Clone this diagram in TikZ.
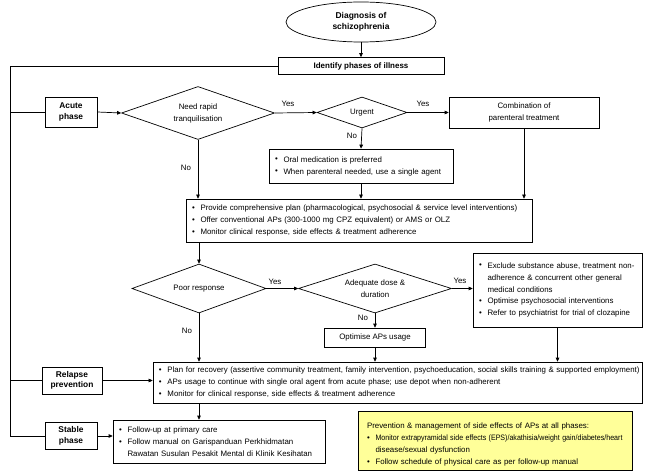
\documentclass[tikz,border=0pt]{standalone}
\usepackage{fontspec}
\setmainfont{Liberation Sans}
\usetikzlibrary{shapes.geometric,arrows.meta}
\newcommand{\bitem}[1]{\mbox{\makebox[8.5bp][l]{\raisebox{0.3bp}{\textbullet}}#1}}
\newcommand{\bcont}[1]{\mbox{\hspace*{8.5bp}#1}}
\begin{document}
\begin{tikzpicture}[x=1bp,y=-1bp,
  every node/.style={font=\fontsize{7.9}{12}\selectfont, inner sep=0},
  ln/.style={line width=0.7bp},
  arr/.style={ln, -{Triangle[length=4bp,width=3.6bp]}},
  bx/.style={draw, ln, rectangle, align=center},
  bbx/.style={draw, ln, rectangle, align=left, inner xsep=6bp, text width=#1},
  lbl/.style={draw, ln, rectangle, align=center, font=\fontsize{8.4}{10.5}\selectfont\bfseries},
  dia/.style={draw, ln, diamond, align=center},
  yn/.style={font=\fontsize{7.9}{9}\selectfont}
]
\useasboundingbox (0,0) rectangle (650,476);

% top
\node[draw, ln, ellipse, minimum width=150bp, minimum height=40bp, align=center,
      font=\fontsize{8.5}{11}\selectfont\bfseries] (diag) at (361,22) {Diagnosis of\\schizophrenia};
\node[draw, ln, rectangle, minimum width=166bp, minimum height=17bp, font=\fontsize{8}{10}\selectfont\bfseries] (ident) at (361,66) {Identify phases of illness};

% phase labels
\node[lbl, minimum width=52bp, minimum height=30bp] (acute) at (71,112) {Acute\\phase};
\node[lbl, minimum width=60bp, minimum height=27bp] (rlbl) at (72,380.5) {Relapse\\prevention};
\node[lbl, minimum width=52bp, minimum height=27bp] (slbl) at (71,436) {Stable\\phase};

% acute phase
\node[dia, minimum width=153bp, minimum height=53bp, aspect=2.9] (rapid) at (198,113) {Need rapid\\tranquilisation};
\node[dia, minimum width=90bp, minimum height=31bp, aspect=2.9] (urgent) at (362,112.5) {Urgent};
\node[bx, minimum width=150bp, minimum height=31bp] (comb) at (524,112.5) {Combination of\\parenteral treatment};
\node[bbx=172bp, minimum height=34bp] (oral) at (361,166)
  {\bitem{Oral medication is preferred}\\\bitem{When parenteral needed, use a single agent}};
\node[bbx=334bp, minimum height=43bp] (main) at (359,220.5)
  {\bitem{Provide comprehensive plan (pharmacological, psychosocial \& service level interventions)}\\
   \bitem{Offer conventional APs (300-1000 mg CPZ equivalent) or AMS or OLZ}\\
   \bitem{Monitor clinical response, side effects \& treatment adherence}};

% response
\node[dia, minimum width=134bp, minimum height=49bp, aspect=2.7] (poor) at (199,288.5) {Poor response};
\node[dia, minimum width=153bp, minimum height=49bp, aspect=3.1] (adeq) at (375,288.5) {Adequate dose \&\\duration};
\node[bx, minimum width=101bp, minimum height=19bp] (opt) at (375,337.5) {Optimise APs usage};
\node[bbx=157bp, minimum height=74bp] (excl) at (557.5,290)
  {\bitem{Exclude substance abuse, treatment non-}\\\bcont{adherence \& concurrent other general}\\\bcont{medical conditions}\\
   \bitem{Optimise psychosocial interventions}\\\bitem{Refer to psychiatrist for trial of clozapine}};

% relapse & stable
\node[bbx=477bp, minimum height=41bp] (relapse) at (397.5,382.5)
  {\bitem{\resizebox{472bp}{\height}{Plan for recovery (assertive community treatment, family intervention, psychoeducation, social skills training \& supported employment)}}\\
   \bitem{APs usage to continue with single oral agent from acute phase; use depot when non-adherent}\\
   \bitem{Monitor for clinical response, side effects \& treatment adherence}};
\node[bbx=200bp, minimum height=43bp] (stable) at (219,441.5)
  {\bitem{Follow-up at primary care}\\\bitem{Follow manual on Garispanduan Perkhidmatan}\\\bcont{Rawatan Susulan Pesakit Mental di Klinik Kesihatan}};
\node[bbx=256bp, minimum height=59bp, fill={rgb,255:red,255;green,255;blue,153}, inner xsep=9bp] (yellow) at (495,441)
  {\mbox{\rule{0pt}{13bp}Prevention \& management of side effects of APs at all phases:}\\
   \bitem{\resizebox{247bp}{\height}{Monitor extrapyramidal side effects (EPS)/akathisia/weight gain/diabetes/heart}}\\\bcont{disease/sexual dysfunction}\\
   \bitem{Follow schedule of physical care as per follow-up manual}};

% spine
\coordinate (spTop) at (10,66);
\draw[ln] (ident.west) -- (spTop) |- (slbl.west);
\draw[ln] (acute.west -| spTop) -- (acute.west);
\draw[ln] (rlbl.west -| spTop) -- (rlbl.west);

% connectors
\draw[arr] (diag.south) -- (ident.north);
\draw[arr] (acute.east) -- (rapid.west);
\draw[arr] (rapid.east) -- (urgent.west);
\draw[arr] (urgent.east) -- (comb.west);
\draw[arr] (urgent.south) -- (oral.north);
\draw[arr] (oral.south) -- (oral.south |- main.north);
\draw[arr] (rapid.south) -- (rapid.south |- main.north);
\draw[arr] (comb.south) -- (comb.south |- main.north);
\draw[arr] (main.south -| poor.north) -- (poor.north);
\draw[arr] (poor.east) -- (adeq.west);
\draw[arr] (adeq.east) -- (adeq.east -| excl.west);
\draw[arr] (adeq.south) -- (opt.north);
\draw[arr] (opt.south) -- (opt.south |- relapse.north);
\draw[arr] (poor.south) -- (poor.south |- relapse.north);
\draw[arr] (excl.south) -- (excl.south |- relapse.north);
\coordinate (rs) at (relapse.south -| poor.south);
\draw[arr] (rs) -- (rs |- stable.north);
\draw[arr] (rlbl.east) -- (rlbl.east -| relapse.west);
\draw[arr] (slbl.east) -- (slbl.east -| stable.west);

% yes / no labels
\node[yn] (y1) at (288,104) {Yes};
\node[yn] (y2) at (423,104) {Yes};
\node[yn] (n1) at (352,136) {No};
\node[yn] (n2) at (186,168) {No};
\node[yn] (y3) at (275,282) {Yes};
\node[yn] (y4) at (460,281) {Yes};
\node[yn] (n3) at (363,318) {No};
\node[yn] (n4) at (187,331) {No};
\end{tikzpicture}
\end{document}
